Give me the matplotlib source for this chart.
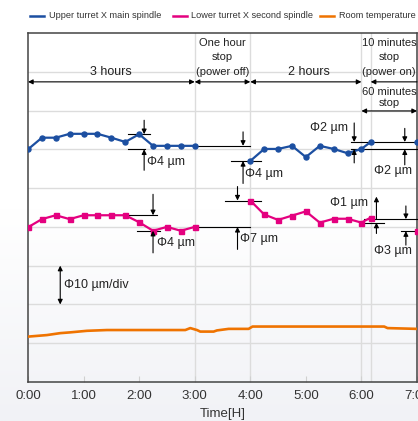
import numpy as np
import matplotlib.pyplot as plt
from matplotlib.lines import Line2D
from matplotlib.colors import LinearSegmentedColormap

plt.rcParams['font.family'] = ['Liberation Sans', 'DejaVu Sans']

# measured points (time in hours, displacement in um)
hours_run1 = [0, 0.25, 0.5, 0.75, 1.0, 1.25, 1.5, 1.75, 2.0, 2.25, 2.5, 2.75, 3.0]
hours_run2 = [4.0, 4.25, 4.5, 4.75, 5.0, 5.25, 5.5, 5.75, 6.0, 6 + 10 / 60]
hours_end = [7.0]

upper_run1 = [60.0, 63.0, 63.0, 64.0, 64.0, 64.0, 63.0, 61.9, 63.9, 60.9, 60.9, 60.9, 60.9]
upper_run2 = [57.0, 60.1, 60.1, 60.9, 58.0, 60.9, 60.1, 59.0, 60.1, 61.9]
upper_end = [61.9]

lower_run1 = [39.9, 42.0, 43.0, 42.0, 43.0, 43.0, 43.0, 43.0, 41.2, 39.0, 40.0, 39.0, 40.0]
lower_run2 = [46.8, 43.2, 41.8, 42.9, 44.0, 41.1, 42.1, 42.1, 41.1, 42.4]
lower_end = [39.0]

temp_hours = [0, 0.34, 0.58, 0.76, 1.06, 1.42, 2.83, 2.92, 3.04, 3.10, 3.34, 3.40,
              3.61, 3.97, 4.04, 6.41, 6.47, 7.0]
temp_vals = [11.7, 12.1, 12.6, 12.8, 13.2, 13.4, 13.4, 13.9, 13.4, 13.0, 13.0, 13.3,
             13.7, 13.7, 14.3, 14.3, 13.9, 13.7]

hour_ticks = [0, 1, 2, 3, 4, 5, 6, 7]
hour_labels = ['0:00', '1:00', '2:00', '3:00', '4:00', '5:00', '6:00', '7:00']
series_names = ['Upper turret X main spindle', 'Lower turret X second spindle', 'Room temperature']

BLUE = '#1c4fa1'
PINK = '#e4007f'
ORANGE = '#ef7300'

W, H = 418, 421
fig = plt.figure(figsize=(W / 100, H / 100), dpi=100)

# soft page background (white -> light grey)
bg = fig.add_axes([0, 0, 1, 1], zorder=-10)
cmap = LinearSegmentedColormap.from_list('bg', ['#ffffff', '#ffffff', '#f1f2f6'])
bg.imshow(np.linspace(0, 1, 200).reshape(-1, 1), aspect='auto', cmap=cmap)
bg.axis('off')

ax = fig.add_axes([28 / W, 39 / H, 389 / W, 349 / H])
ax.set_facecolor('none')
ax.set_xlim(0, 7)
ax.set_ylim(0, 90)

# grid
for y in range(10, 90, 10):
    ax.axhline(y, color='#dcdcdc', lw=1.0, zorder=0)
for x in [3, 4, 6, 6 + 10 / 60]:
    ax.axvline(x, color='#dcdcdc', lw=1.0, zorder=0)

for s in ax.spines.values():
    s.set_color('#444444')
    s.set_linewidth(1.1)

ax.set_xticks(hour_ticks)
ax.set_xticklabels(hour_labels, fontsize=9.5, color='#333333')
ax.tick_params(axis='x', direction='in', length=4, color='#d0d0d0', pad=6)
ax.set_yticks([])
ax.set_xlabel('Time[H]', fontsize=9.5, color='#333333', labelpad=4)

# series
ax.plot(hours_run1, upper_run1, color=BLUE, lw=1.6, marker='o', ms=3.6, zorder=5)
ax.plot(hours_run2, upper_run2, color=BLUE, lw=1.6, marker='o', ms=3.6, zorder=5)
ax.plot(hours_end, upper_end, color=BLUE, lw=0, marker='o', ms=3.6, zorder=5)

ax.plot(hours_run1, lower_run1, color=PINK, lw=1.6, marker='s', ms=3.6, zorder=5)
ax.plot(hours_run2, lower_run2, color=PINK, lw=1.6, marker='s', ms=3.6, zorder=5)
ax.plot(hours_end, lower_end, color=PINK, lw=0, marker='s', ms=3.6, zorder=5)

ax.plot(temp_hours, temp_vals, color=ORANGE, lw=1.9, zorder=4)

# legend, laid out by hand in figure pixels
ly = 1 - 16 / H
for (hx, tx), c, name in zip([(30, 49), (173, 191), (320, 339)], (BLUE, PINK, ORANGE), series_names):
    fig.add_artist(Line2D([hx / W, (hx + 14) / W], [ly, ly], color=c, lw=1.8))
    fig.text(tx / W, ly, name, fontsize=6.6, color='#333333', ha='left', va='center')

AP = dict(color='k', lw=0.8, mutation_scale=7, shrinkA=0, shrinkB=0)


def arrow(x0, y0, x1, y1, style='-|>'):
    ax.annotate('', xy=(x1, y1), xytext=(x0, y0),
                arrowprops=dict(arrowstyle=style, **AP), zorder=6)


def hline(y, x0, x1):
    ax.plot([x0, x1], [y, y], color='k', lw=0.8, zorder=3, clip_on=False)


TXT = dict(fontsize=9, color='#222222')
STOP = dict(fontsize=8, color='#222222')

# top period arrows
arrow(0, 77.4, 3, 77.4, '<|-|>')
arrow(3, 77.4, 4, 77.4, '<|-|>')
arrow(4, 77.4, 6, 77.4, '<|-|>')
arrow(7, 77.4, 6 + 10 / 60, 77.4)
arrow(6, 69.9, 7, 69.9, '<|-|>')
ax.text(1.5, 79.9, '3 hours', ha='center', va='center', **TXT)
ax.text(5.05, 79.9, '2 hours', ha='center', va='center', **TXT)
for i, line in enumerate(['One hour', 'stop', '(power off)']):
    ax.text(3.5, 87.4 - 3.7 * i, line, ha='center', va='center', **STOP)
for i, line in enumerate(['10 minutes', 'stop', '(power on)']):
    ax.text(6.5, 87.4 - 3.7 * i, line, ha='center', va='center', **STOP)
ax.text(6.5, 74.8, '60 minutes', ha='center', va='center', **STOP)
ax.text(6.5, 71.9, 'stop', ha='center', va='center', **STOP)

# upper spindle annotations
hline(63.9, 1.8, 2.2)
hline(60.0, 1.8, 2.1)
arrow(2.09, 67.5, 2.09, 63.9)
arrow(2.09, 54.6, 2.09, 60.0)
ax.text(2.14, 56.8, 'Φ4 µm', ha='left', va='center', **TXT)

hline(60.9, 3.0, 4.0)
hline(57.0, 3.66, 4.19)
arrow(3.87, 64.5, 3.87, 60.9)
arrow(3.87, 51.2, 3.87, 57.0)
ax.text(3.91, 53.6, 'Φ4 µm', ha='left', va='center', **TXT)

hline(61.9, 5.81, 7.0)
hline(60.0, 5.81, 7.0)
arrow(5.87, 66.8, 5.87, 61.9)
arrow(5.87, 56.5, 5.87, 60.0)
ax.text(5.75, 65.4, 'Φ2 µm', ha='right', va='center', **TXT)
arrow(6.78, 65.4, 6.78, 61.9)
arrow(6.78, 56.0, 6.78, 60.0)
ax.text(6.57, 54.4, 'Φ2 µm', ha='center', va='center', **TXT)

# lower spindle annotations
hline(43.0, 1.75, 2.33)
hline(39.0, 1.97, 2.38)
arrow(2.25, 48.4, 2.25, 43.0)
arrow(2.25, 33.3, 2.25, 39.0)
ax.text(2.32, 35.9, 'Φ4 µm', ha='left', va='center', **TXT)

hline(40.0, 3.0, 4.0)
hline(46.8, 3.55, 4.2)
arrow(3.77, 50.4, 3.77, 46.8)
arrow(3.77, 34.2, 3.77, 40.0)
ax.text(3.81, 36.8, 'Φ7 µm', ha='left', va='center', **TXT)

hline(42.0, 6.05, 7.0)
hline(41.1, 6.05, 6.41)
arrow(6.27, 42.0, 6.27, 47.8)
arrow(6.27, 38.3, 6.27, 41.1)
ax.text(5.78, 46.1, 'Φ1 µm', ha='center', va='center', **TXT)

hline(38.9, 6.71, 7.0)
arrow(6.8, 45.4, 6.8, 42.0)
arrow(6.8, 35.3, 6.8, 38.9)
ax.text(6.57, 33.9, 'Φ3 µm', ha='center', va='center', **TXT)

# scale marker
arrow(0.58, 20, 0.58, 30, '<|-|>')
ax.text(0.65, 25.0, 'Φ10 µm/div', ha='left', va='center', **TXT)

fig.savefig('out.png', dpi=100)
